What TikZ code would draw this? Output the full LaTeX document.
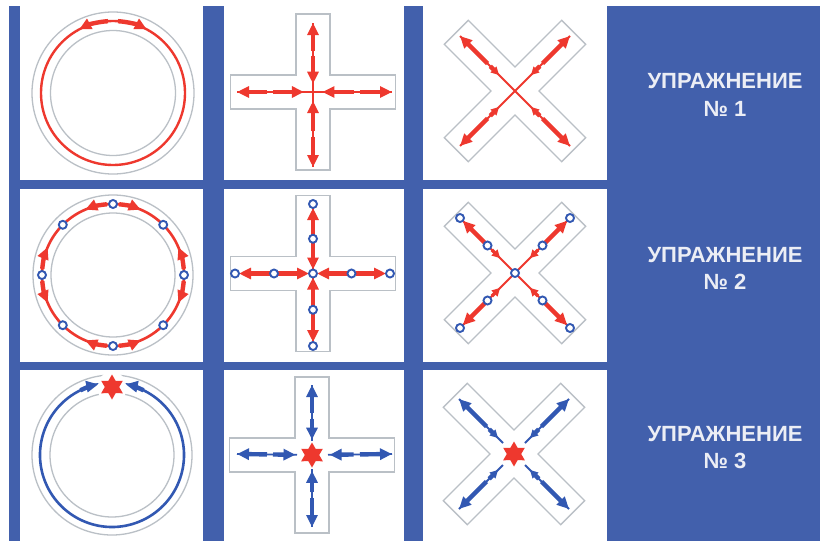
\documentclass[tikz,border=0pt]{standalone}
\usepackage{fontspec}
\setmainfont{Liberation Sans}
\usetikzlibrary{arrows.meta,calc}
\definecolor{panelblue}{RGB}{66,96,172}
\definecolor{arrred}{RGB}{238,56,46}
\definecolor{arrblue}{RGB}{50,88,178}
\definecolor{outgray}{RGB}{186,192,198}
\definecolor{txtwhite}{RGB}{236,238,245}
\newcommand\stretcharm[4]{%
  \draw[#3] ($(#1)!0.6!(#2)$) -- (#2);
  \draw[#3] ($(#1)!0.52!(#2)$) -- ($(#1)!#4!(#2)$);}
\newcommand\xarm[3]{%
  \draw[#3] ($(#1)!0.5!(#2)$) -- (#2);
  \draw[#3, -{Triangle[length=8pt,width=8pt]}] ($(#1)!0.45!(#2)$) -- ($(#1)!0.29!(#2)$);}
\newcommand\plusoutline[5]{%
  \draw[outline, shift={(#1)}, rotate=#5] (-#2,-#4) -- (-#4,-#4) -- (-#4,-#3) -- (#4,-#3) -- (#4,-#4) -- (#2,-#4) -- (#2,#4) -- (#4,#4) -- (#4,#3) -- (-#4,#3) -- (-#4,#4) -- (-#2,#4) -- cycle;}
\newcommand\sixstar[1]{%
  \fill[arrred, shift={(#1)}] (-90:12.5) -- (-60:7.2) -- (-30:12.5) -- (0:7.2) -- (30:12.5) -- (60:7.2) -- (90:12.5) -- (120:7.2) -- (150:12.5) -- (180:7.2) -- (210:12.5) -- (240:7.2) -- cycle;}
\begin{document}
\begin{tikzpicture}[x=1pt,y=-1pt,
  outline/.style={draw=outgray, line width=1.3pt},
  fatred/.style={draw=arrred, line width=4.4pt, -{Triangle[length=12pt,width=11pt]}},
  thinred/.style={draw=arrred, line width=1.8pt},
  fatblue/.style={draw=arrblue, line width=4.4pt, -{Triangle[length=12pt,width=11pt]}},
  thinblue/.style={draw=arrblue, line width=1.8pt},
  marker/.style={circle, draw=arrblue, fill=white, line width=1.9pt, inner sep=0pt, minimum size=8pt},
  txt/.style={text=txtwhite, font=\fontsize{22}{26}\selectfont\bfseries, inner sep=0pt, anchor=base}]
\useasboundingbox (0,0) rectangle (820,541);
\fill[white] (0,0) rectangle (820,541);
\fill[panelblue] (9,6) rectangle (820,541);
\foreach \xa/\xb in {20/203,224/404,423/607}{
  \foreach \ya/\yb in {0/180,189/362,370/541}{
    \fill[white] (\xa,\ya) rectangle (\xb,\yb);
  }
}
% ---------- texts
\node[txt] (t1a) at (725,88) {УПРАЖНЕНИЕ};
\node[txt] (t1b) at (725,116) {№ 1};
\node[txt] (t2a) at (725,262) {УПРАЖНЕНИЕ};
\node[txt] (t2b) at (725,289) {№ 2};
\node[txt] (t3a) at (725,441) {УПРАЖНЕНИЕ};
\node[txt] (t3b) at (725,468) {№ 3};
% ---------- row 1 circle
\coordinate (K1) at (113,93);
\draw[outline] (K1) circle[radius=81];
\draw[outline] (K1) circle[radius=62.5];
\draw[arrred, line width=2.4pt] (K1) circle[radius=72];
\draw[fatred] ($(K1)+(-94:72)$) arc[start angle=-94, end angle=-118, radius=72];
\draw[fatred] ($(K1)+(-86:72)$) arc[start angle=-86, end angle=-62, radius=72];
% ---------- row 2 circle
\coordinate (K2) at (113,275);
\draw[outline] (K2) circle[radius=80];
\draw[outline] (K2) circle[radius=62];
\draw[arrred, line width=2.6pt] (K2) circle[radius=71];
\foreach \c in {-90,0,90,180}{
  \draw[fatred] ($(K2)+({\c-5}:71)$) arc[start angle=\c-5, end angle=\c-23, radius=71];
  \draw[fatred] ($(K2)+({\c+5}:71)$) arc[start angle=\c+5, end angle=\c+23, radius=71];
}
\foreach \a [count=\i] in {0,45,90,135,180,225,270,315}{
  \node[marker] (cm\i) at ($(K2)+(\a:71)$) {};
}
% ---------- row 3 circle
\coordinate (K3) at (112,455);
\coordinate (S1) at (112,387);
\draw[outline] (K3) circle[radius=80];
\draw[outline] (K3) circle[radius=62];
\fill[white] (S1) circle[radius=15];
\draw[arrblue, line width=2.6pt] ($(K3)+(-110:72)$) arc[start angle=-110, end angle=-430, radius=72];
\draw[fatblue] ($(K3)+(-116:72)$) arc[start angle=-116, end angle=-101, radius=72];
\draw[fatblue] ($(K3)+(-64:72)$) arc[start angle=-64, end angle=-79, radius=72];
\sixstar{S1}
% ---------- row 1 cross
\coordinate (C1) at (313,92);
\plusoutline{C1}{82.5}{78}{17}{0}
\coordinate (C1u) at (313,23);
\coordinate (C1d) at (313,167);
\coordinate (C1l) at (237,92);
\coordinate (C1r) at (392,92);
\draw[thinred] (C1u) -- (C1d);
\draw[thinred] (C1l) -- (C1r);
\foreach \e in {C1u,C1d,C1l,C1r}{\stretcharm{C1}{\e}{fatred}{0.12}}
% ---------- row 2 cross
\coordinate (C2) at (313,273.5);
\plusoutline{C2}{82.5}{78}{17}{0}
\coordinate (C2u) at (313,204);
\coordinate (C2d) at (313,346);
\coordinate (C2l) at (235,273.5);
\coordinate (C2r) at (390,273.5);
\draw[thinred] (C2u) -- (C2d);
\draw[thinred] (C2l) -- (C2r);
\foreach \e in {C2u,C2d,C2l,C2r}{
  \draw[fatred, shorten >=4pt, shorten <=4pt] ($(C2)!0.5!(\e)$) -- (\e);
  \draw[fatred, shorten >=4pt, shorten <=4pt] ($(C2)!0.5!(\e)$) -- (C2);
  \node[marker] (m\e) at ($(C2)!0.5!(\e)$) {};
  \node[marker] (n\e) at (\e) {};
}
\node[marker] (mc2) at (C2) {};
% ---------- row 3 cross
\coordinate (C3) at (312,455);
\plusoutline{C3}{82.5}{78}{17}{0}
\coordinate (C3u) at (312,385);
\coordinate (C3d) at (312,527);
\coordinate (C3l) at (237,454);
\coordinate (C3r) at (392,454);
\foreach \e in {C3u,C3d,C3l,C3r}{
  \draw[thinblue] ($(C3)!0.2!(\e)$) -- (\e);
  \stretcharm{C3}{\e}{fatblue}{0.22}}
\sixstar{C3}
% ---------- row 1 X
\coordinate (X1) at (515,91);
\plusoutline{X1}{83}{83}{17}{45}
\coordinate (X1a) at (460,36);
\coordinate (X1b) at (570,36);
\coordinate (X1c) at (460,146);
\coordinate (X1d) at (570,146);
\draw[thinred] (X1a) -- (X1d);
\draw[thinred] (X1b) -- (X1c);
\foreach \e in {X1a,X1b,X1c,X1d}{\xarm{X1}{\e}{fatred}}
% ---------- row 2 X
\coordinate (X2) at (515,273);
\plusoutline{X2}{83}{83}{17}{45}
\coordinate (X2a) at (460,218);
\coordinate (X2b) at (570,218);
\coordinate (X2c) at (460,328);
\coordinate (X2d) at (570,328);
\draw[thinred] (X2a) -- (X2d);
\draw[thinred] (X2b) -- (X2c);
\foreach \e in {X2a,X2b,X2c,X2d}{
  \draw[fatred, shorten >=4pt, shorten <=4pt] ($(X2)!0.5!(\e)$) -- (\e);
  \draw[arrred, line width=3.4pt, -{Triangle[length=8pt,width=8pt]}] ($(X2)!0.42!(\e)$) -- ($(X2)!0.27!(\e)$);
  \node[marker] (m\e) at ($(X2)!0.5!(\e)$) {};
  \node[marker] (n\e) at (\e) {};
}
\node[marker] (mx2) at (X2) {};
% ---------- row 3 X
\coordinate (X3) at (514,454);
\plusoutline{X3}{83}{83}{17}{45}
\coordinate (X3a) at (459,399);
\coordinate (X3b) at (569,399);
\coordinate (X3c) at (459,509);
\coordinate (X3d) at (569,509);
\foreach \e in {X3a,X3b,X3c,X3d}{
  \draw[thinblue] ($(X3)!0.2!(\e)$) -- (\e);
  \xarm{X3}{\e}{fatblue}}
\sixstar{X3}
\end{tikzpicture}
\end{document}
